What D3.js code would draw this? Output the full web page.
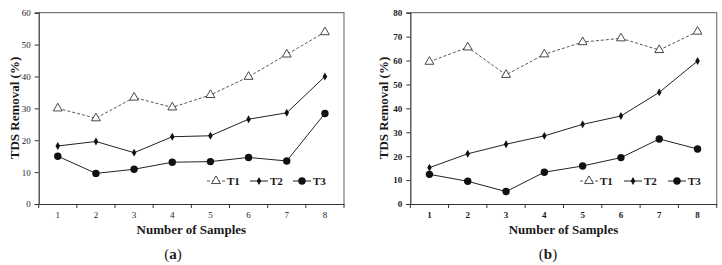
<!DOCTYPE html>
<html>
<head>
<meta charset="utf-8">
<script src="https://cdn.jsdelivr.net/npm/d3@7"></script>
<style>
  body { margin: 0; background: #fff; }
  svg { display: block; }
  text { font-family: "Liberation Serif", "DejaVu Serif", serif; fill: #1a1a1a; }
</style>
</head>
<body>
<svg width="722" height="265"></svg>
<script>
// datos
const samples = ['1', '2', '3', '4', '5', '6', '7', '8'];
const seriesNames = ['T1', 'T2', 'T3'];

const a_T1 = [30, 26.9, 33.4, 30.3, 34.2, 39.9, 46.9, 53.9];
const a_T2 = [18.2, 19.6, 16.1, 21.1, 21.4, 26.6, 28.6, 40];
const a_T3 = [15, 9.6, 10.9, 13.1, 13.3, 14.6, 13.5, 28.4];
const a_yTicks = [0, 10, 20, 30, 40, 50, 60];

const b_T1 = [59.5, 65.5, 54, 62.6, 67.7, 69.3, 64.4, 72.1];
const b_T2 = [15.2, 21, 25, 28.5, 33.3, 36.8, 46.7, 59.8];
const b_T3 = [12.4, 9.5, 5.2, 13.3, 15.9, 19.4, 27.2, 23];
const b_yTicks = [0, 10, 20, 30, 40, 50, 60, 70, 80];

const svg = d3.select('svg');

function drawPanel(p) {
    const g = svg.append('g');
    const x = d3.scaleBand().domain(samples).range([p.left, p.right]);
    const y = d3.scaleLinear().domain([0, p.yMax]).range([204, 12.7]);

    // marco gris (arriba y derecha)
    g.append('path')
        .attr('d', `M${p.left},${y(p.yMax)}H${p.right}V${y(0)}`)
        .attr('fill', 'none')
        .attr('stroke', '#7a7a7a')
        .attr('stroke-width', 1.2);

    // eje y
    const yAxis = g.append('g')
        .attr('transform', `translate(${p.left},0)`)
        .call(d3.axisLeft(y).tickValues(p.yTicks).tickSize(4).tickPadding(4));
    yAxis.select('.domain').attr('stroke', '#333').attr('stroke-width', 1.2);
    yAxis.selectAll('.tick line').attr('stroke', '#333');
    yAxis.selectAll('text')
        .style('font-size', '9px')
        .style('font-weight', p.boldTicks ? 'bold' : 'normal')
        .style('font-family', '"Liberation Serif", serif');

    // eje x, marcas entre categorias
    const xAxis = g.append('g')
        .attr('transform', `translate(0,${y(0)})`)
        .call(d3.axisBottom(x).tickSize(0).tickPadding(8));
    xAxis.select('.domain').attr('stroke', '#333').attr('stroke-width', 1.2);
    xAxis.selectAll('text')
        .style('font-size', '9px')
        .style('font-weight', p.boldTicks ? 'bold' : 'normal')
        .style('font-family', '"Liberation Serif", serif');
    g.selectAll('.xtick')
        .data(d3.range(samples.length + 1))
        .enter().append('line')
        .attr('x1', i => p.left + i * x.step())
        .attr('x2', i => p.left + i * x.step())
        .attr('y1', y(0))
        .attr('y2', y(0) + 4)
        .attr('stroke', '#333');

    // lineas
    const line = d3.line()
        .x((d, i) => x(samples[i]) + x.bandwidth() / 2)
        .y(d => y(d));

    const styles = {
        T1: { dash: '3,2', stroke: '#444', width: 0.9 },
        T2: { dash: null, stroke: '#222', width: 1 },
        T3: { dash: null, stroke: '#222', width: 1 }
    };

    p.series.forEach((vals, k) => {
        const name = seriesNames[k];
        g.append('path')
            .datum(vals)
            .attr('d', line)
            .attr('fill', 'none')
            .attr('stroke', styles[name].stroke)
            .attr('stroke-width', styles[name].width)
            .attr('stroke-dasharray', styles[name].dash);
    });

    function marker(sel, name) {
        if (name === 'T1') {
            sel.append('path')
                .attr('d', d3.symbol().type(d3.symbolTriangle).size(34))
                .attr('fill', '#fff')
                .attr('stroke', '#333')
                .attr('stroke-width', 0.9);
        } else if (name === 'T2') {
            sel.append('path')
                .attr('d', d3.symbol().type(d3.symbolDiamond).size(18))
                .attr('fill', '#111');
        } else {
            sel.append('circle')
                .attr('r', 3.7)
                .attr('fill', '#111');
        }
    }

    p.series.forEach((vals, k) => {
        const name = seriesNames[k];
        g.selectAll('.m' + name)
            .data(vals)
            .enter().append('g')
            .attr('transform', (d, i) => `translate(${x(samples[i]) + x.bandwidth() / 2},${y(d)})`)
            .each(function () { marker(d3.select(this), name); });
    });

    // leyenda
    const ly = 181;
    p.legendX.forEach((lx, k) => {
        const name = seriesNames[k];
        const lg = g.append('g');
        lg.append('line')
            .attr('x1', lx).attr('x2', lx + 18)
            .attr('y1', ly).attr('y2', ly)
            .attr('stroke', styles[name].stroke)
            .attr('stroke-width', styles[name].width)
            .attr('stroke-dasharray', styles[name].dash);
        const mg = lg.append('g').attr('transform', `translate(${lx + 9},${ly})`);
        marker(mg, name);
        lg.append('text')
            .attr('x', lx + 20)
            .attr('y', ly + 4)
            .style('font-size', '11px')
            .style('font-weight', 'bold')
            .text(name);
    });

    // titulos
    g.append('text')
        .attr('x', (p.left + p.right) / 2)
        .attr('y', 234)
        .attr('text-anchor', 'middle')
        .style('font-size', '13px')
        .style('font-weight', 'bold')
        .text('Number of Samples');

    g.append('text')
        .attr('transform', `translate(${p.yTitleX},${108}) rotate(-90)`)
        .attr('text-anchor', 'middle')
        .style('font-size', '13px')
        .style('font-weight', 'bold')
        .text('TDS Removal (%)');

    const lab = g.append('text')
        .attr('x', p.labelX)
        .attr('y', 259)
        .attr('text-anchor', 'middle')
        .style('font-size', '15px');
    lab.append('tspan').text('(');
    lab.append('tspan').style('font-weight', 'bold').text(p.label);
    lab.append('tspan').text(')');
}

drawPanel({
    left: 38.7, right: 344, yMax: 60, yTicks: a_yTicks,
    series: [a_T1, a_T2, a_T3], boldTicks: false,
    legendX: [207, 250, 293], yTitleX: 19, labelX: 173, label: 'a'
});

drawPanel({
    left: 410.3, right: 716.7, yMax: 80, yTicks: b_yTicks,
    series: [b_T1, b_T2, b_T3], boldTicks: true,
    legendX: [580, 624, 668], yTitleX: 388, labelX: 548, label: 'b'
});
</script>
</body>
</html>
